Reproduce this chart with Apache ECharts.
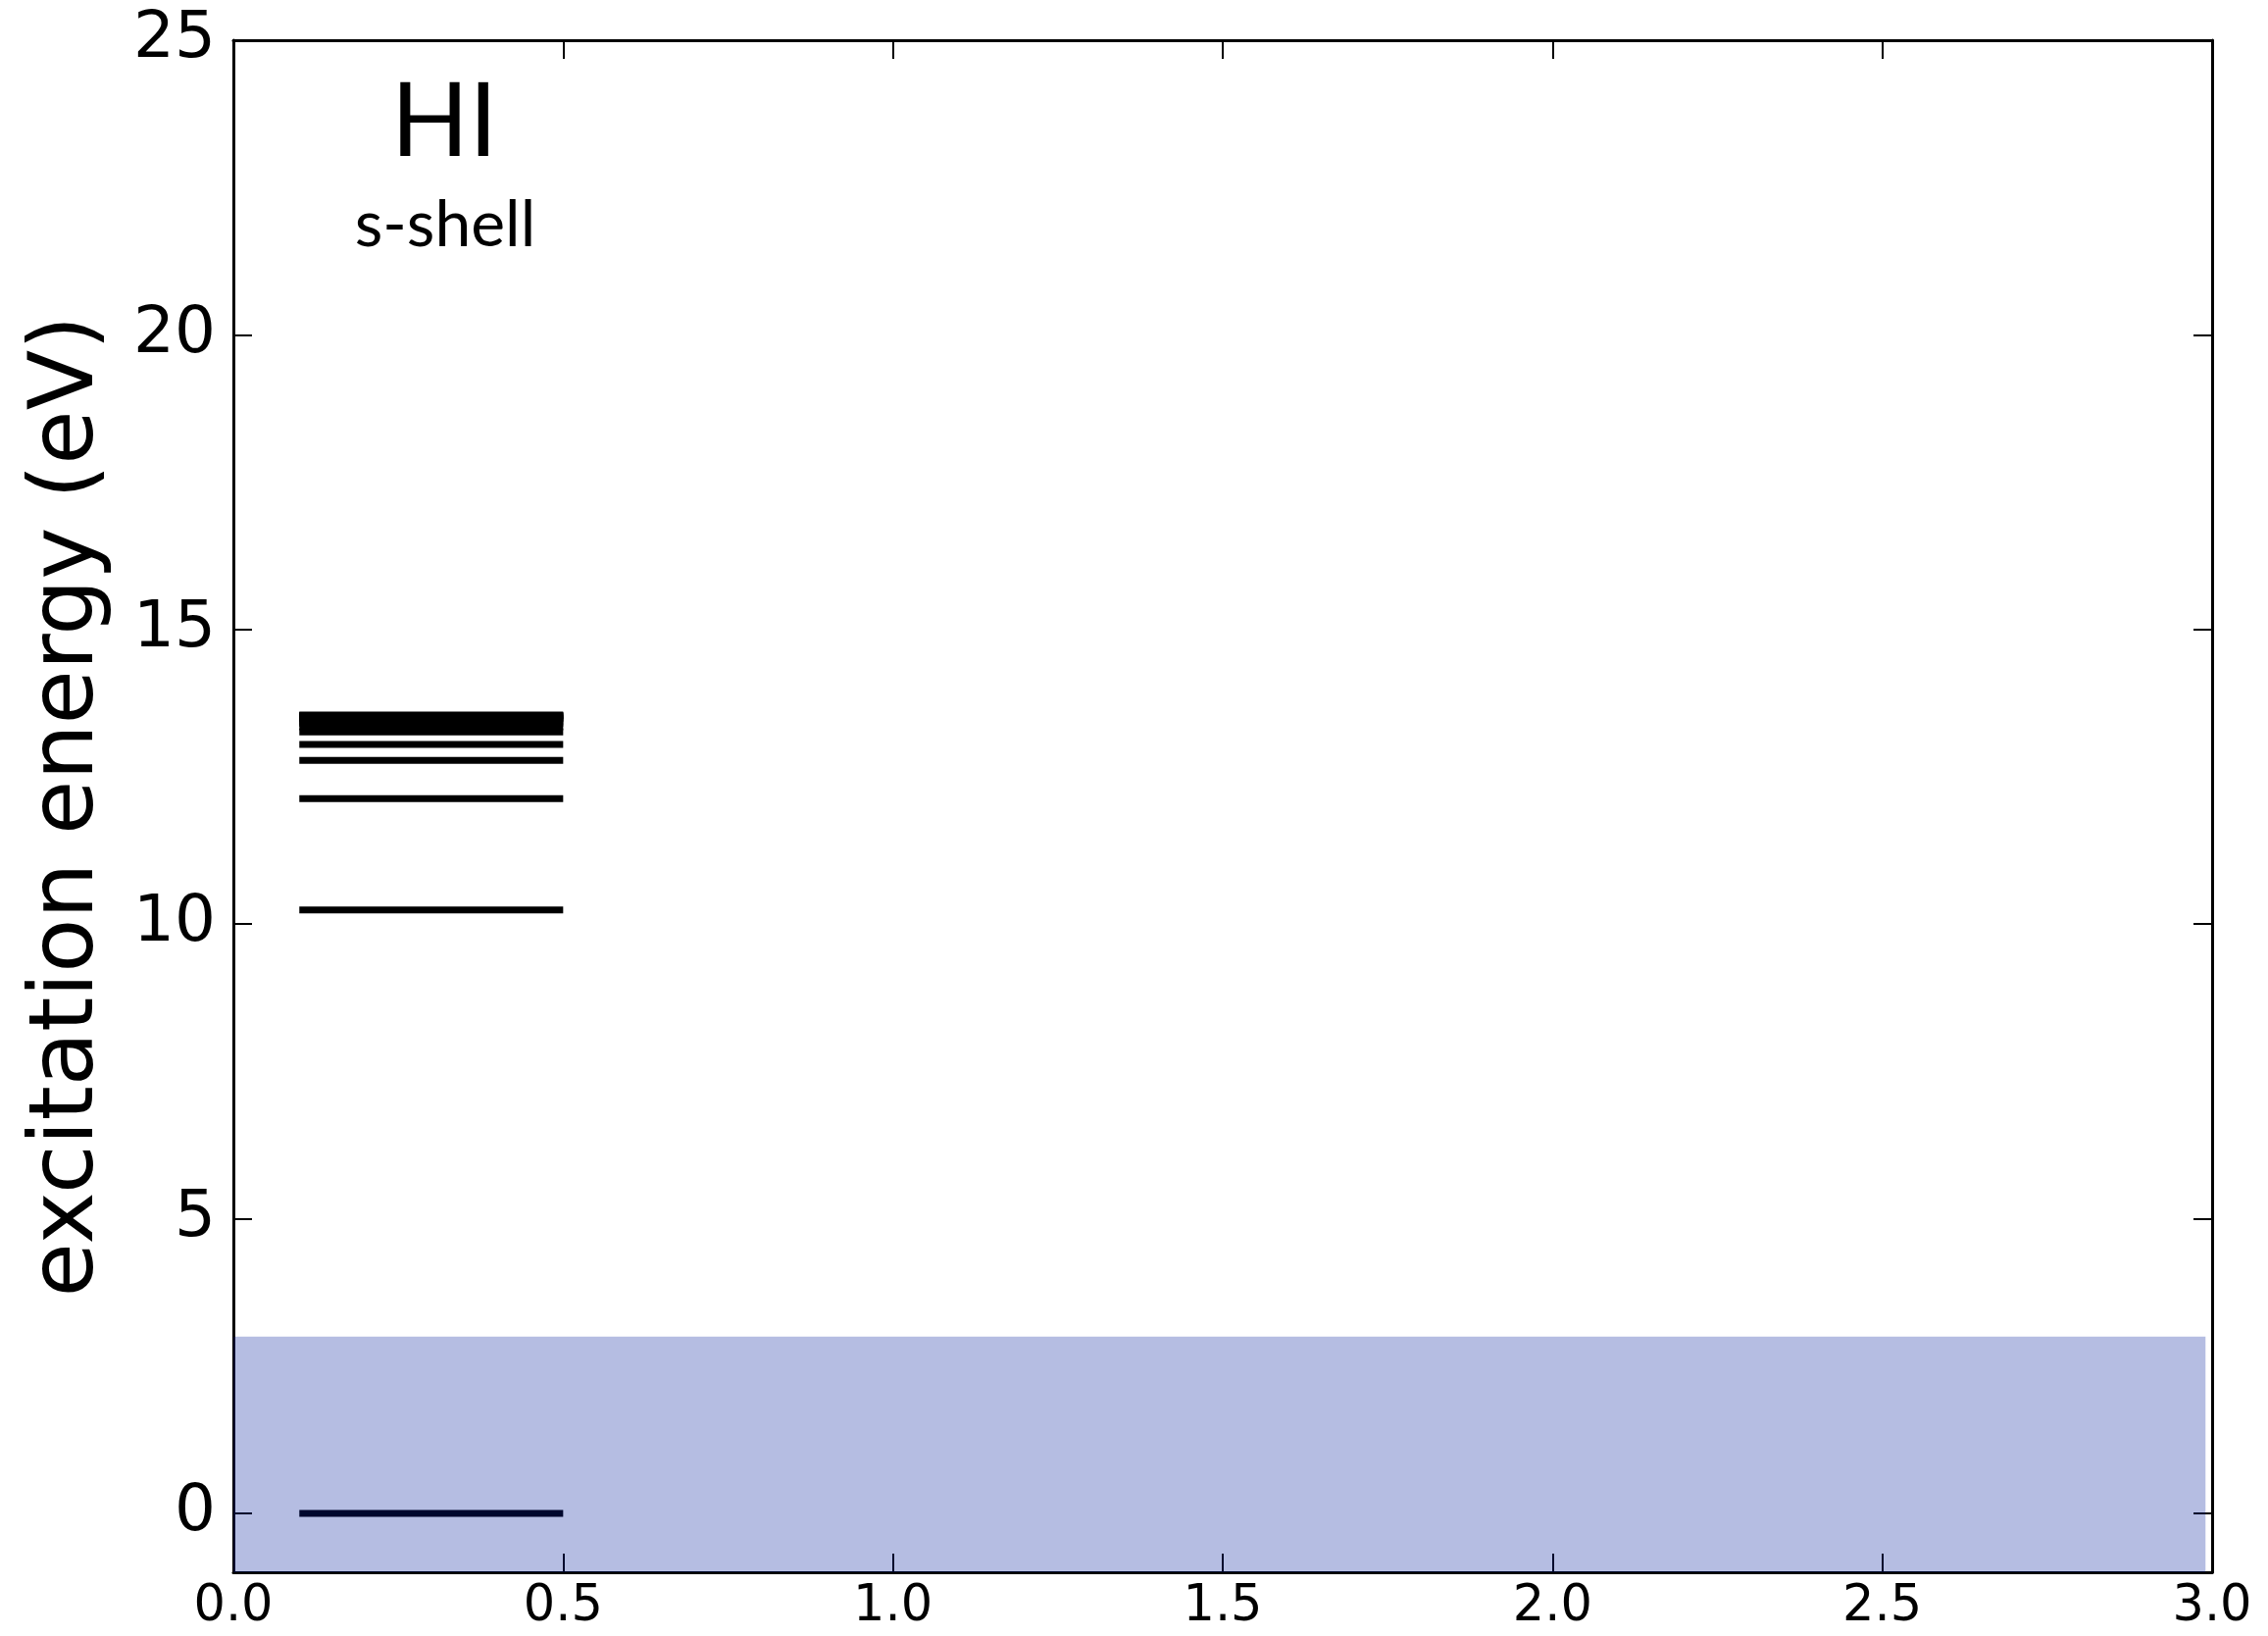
<!DOCTYPE html>
<html><head><meta charset="utf-8">
<script src="https://cdn.jsdelivr.net/npm/echarts@6/dist/echarts.min.js"></script>
<style>html,body{margin:0;padding:0;background:#fff}#c{width:2313px;height:1668px}</style>
</head><body><div id="c"></div>
<script>
// ---- data ----
const levelEnergies = [0, 10.24, 12.13, 12.78, 13.05, 13.26, 13.35, 13.41, 13.45, 13.48, 13.50, 13.52, 13.53, 13.54, 13.55];
const levelXRange = [0.1, 0.5];
const bandX = [0, 2.99];
const bandY = [-1, 3];
const xTicks = [0, 0.5, 1, 1.5, 2, 2.5, 3];
const yTicks = [0, 5, 10, 15, 20, 25];
const xRange = [0, 3];
const yRange = [-1, 25];
const titleText = 'HI';
const subtitleText = 's-shell';
const yName = 'excitation energy (eV)';

// ---- chart ----
const chart = echarts.init(document.getElementById('c'), null, {renderer: 'canvas'});
function axisLine() { return {show: true, onZero: false, lineStyle: {color: '#000', width: 3}}; }
function tick(vals) { return {show: true, inside: true, length: 19, customValues: vals, lineStyle: {color: '#000', width: 2}}; }

const levelSeries = levelEnergies.map(function (e) {
  return {
    type: 'line', xAxisIndex: 0, yAxisIndex: 0, z: 2,
    data: [[levelXRange[0], e], [levelXRange[1], e]],
    symbol: 'none', silent: true,
    lineStyle: {color: '#000', width: 7, cap: 'butt'}
  };
});

const bandSeries = {
  type: 'line', xAxisIndex: 0, yAxisIndex: 0, z: 5, data: [], symbol: 'none',
  markArea: {
    silent: true, z: 10,
    itemStyle: {color: 'rgba(0,28,155,0.29)'},
    data: [[{coord: [bandX[0], bandY[0]]}, {coord: [bandX[1], bandY[1]]}]]
  }
};

chart.setOption({
  animation: false,
  backgroundColor: '#fff',
  grid: {left: 238, right: 57, top: 41, bottom: 65, containLabel: false},
  xAxis: [
    {type: 'value', position: 'bottom', min: xRange[0], max: xRange[1], z: 1,
     axisLine: axisLine(), axisTick: tick(xTicks), splitLine: {show: false},
     axisLabel: {customValues: xTicks, margin: 10, color: '#000', fontFamily: 'DejaVu Sans', fontSize: 51,
       formatter: function (v) { return v.toFixed(1); }}},
    {type: 'value', position: 'top', min: xRange[0], max: xRange[1], z: 1,
     axisLine: axisLine(), axisTick: tick(xTicks), splitLine: {show: false},
     axisLabel: {show: false}}
  ],
  yAxis: [
    {type: 'value', position: 'left', min: yRange[0], max: yRange[1], z: 1,
     name: yName, nameLocation: 'middle', nameGap: 122, nameRotate: 90,
     nameTextStyle: {fontFamily: 'DejaVu Sans', fontSize: 90, color: '#000'},
     axisLine: axisLine(), axisTick: tick(yTicks), splitLine: {show: false},
     axisLabel: {customValues: yTicks, margin: 18, color: '#000', fontFamily: 'DejaVu Sans', fontSize: 66}},
    {type: 'value', position: 'right', min: yRange[0], max: yRange[1], z: 1,
     axisLine: axisLine(), axisTick: tick(yTicks), splitLine: {show: false},
     axisLabel: {show: false}}
  ],
  graphic: [
    {type: 'text', z: 10,
     style: {text: titleText, x: 453, y: 125, align: 'center', verticalAlign: 'middle',
             font: '104px Lato', fill: '#000'}},
    {type: 'text', z: 10,
     style: {text: subtitleText, x: 454, y: 230, align: 'center', verticalAlign: 'middle',
             font: '66px Lato', fill: '#000'}}
  ],
  series: levelSeries.concat([bandSeries])
});
</script>
</body></html>
